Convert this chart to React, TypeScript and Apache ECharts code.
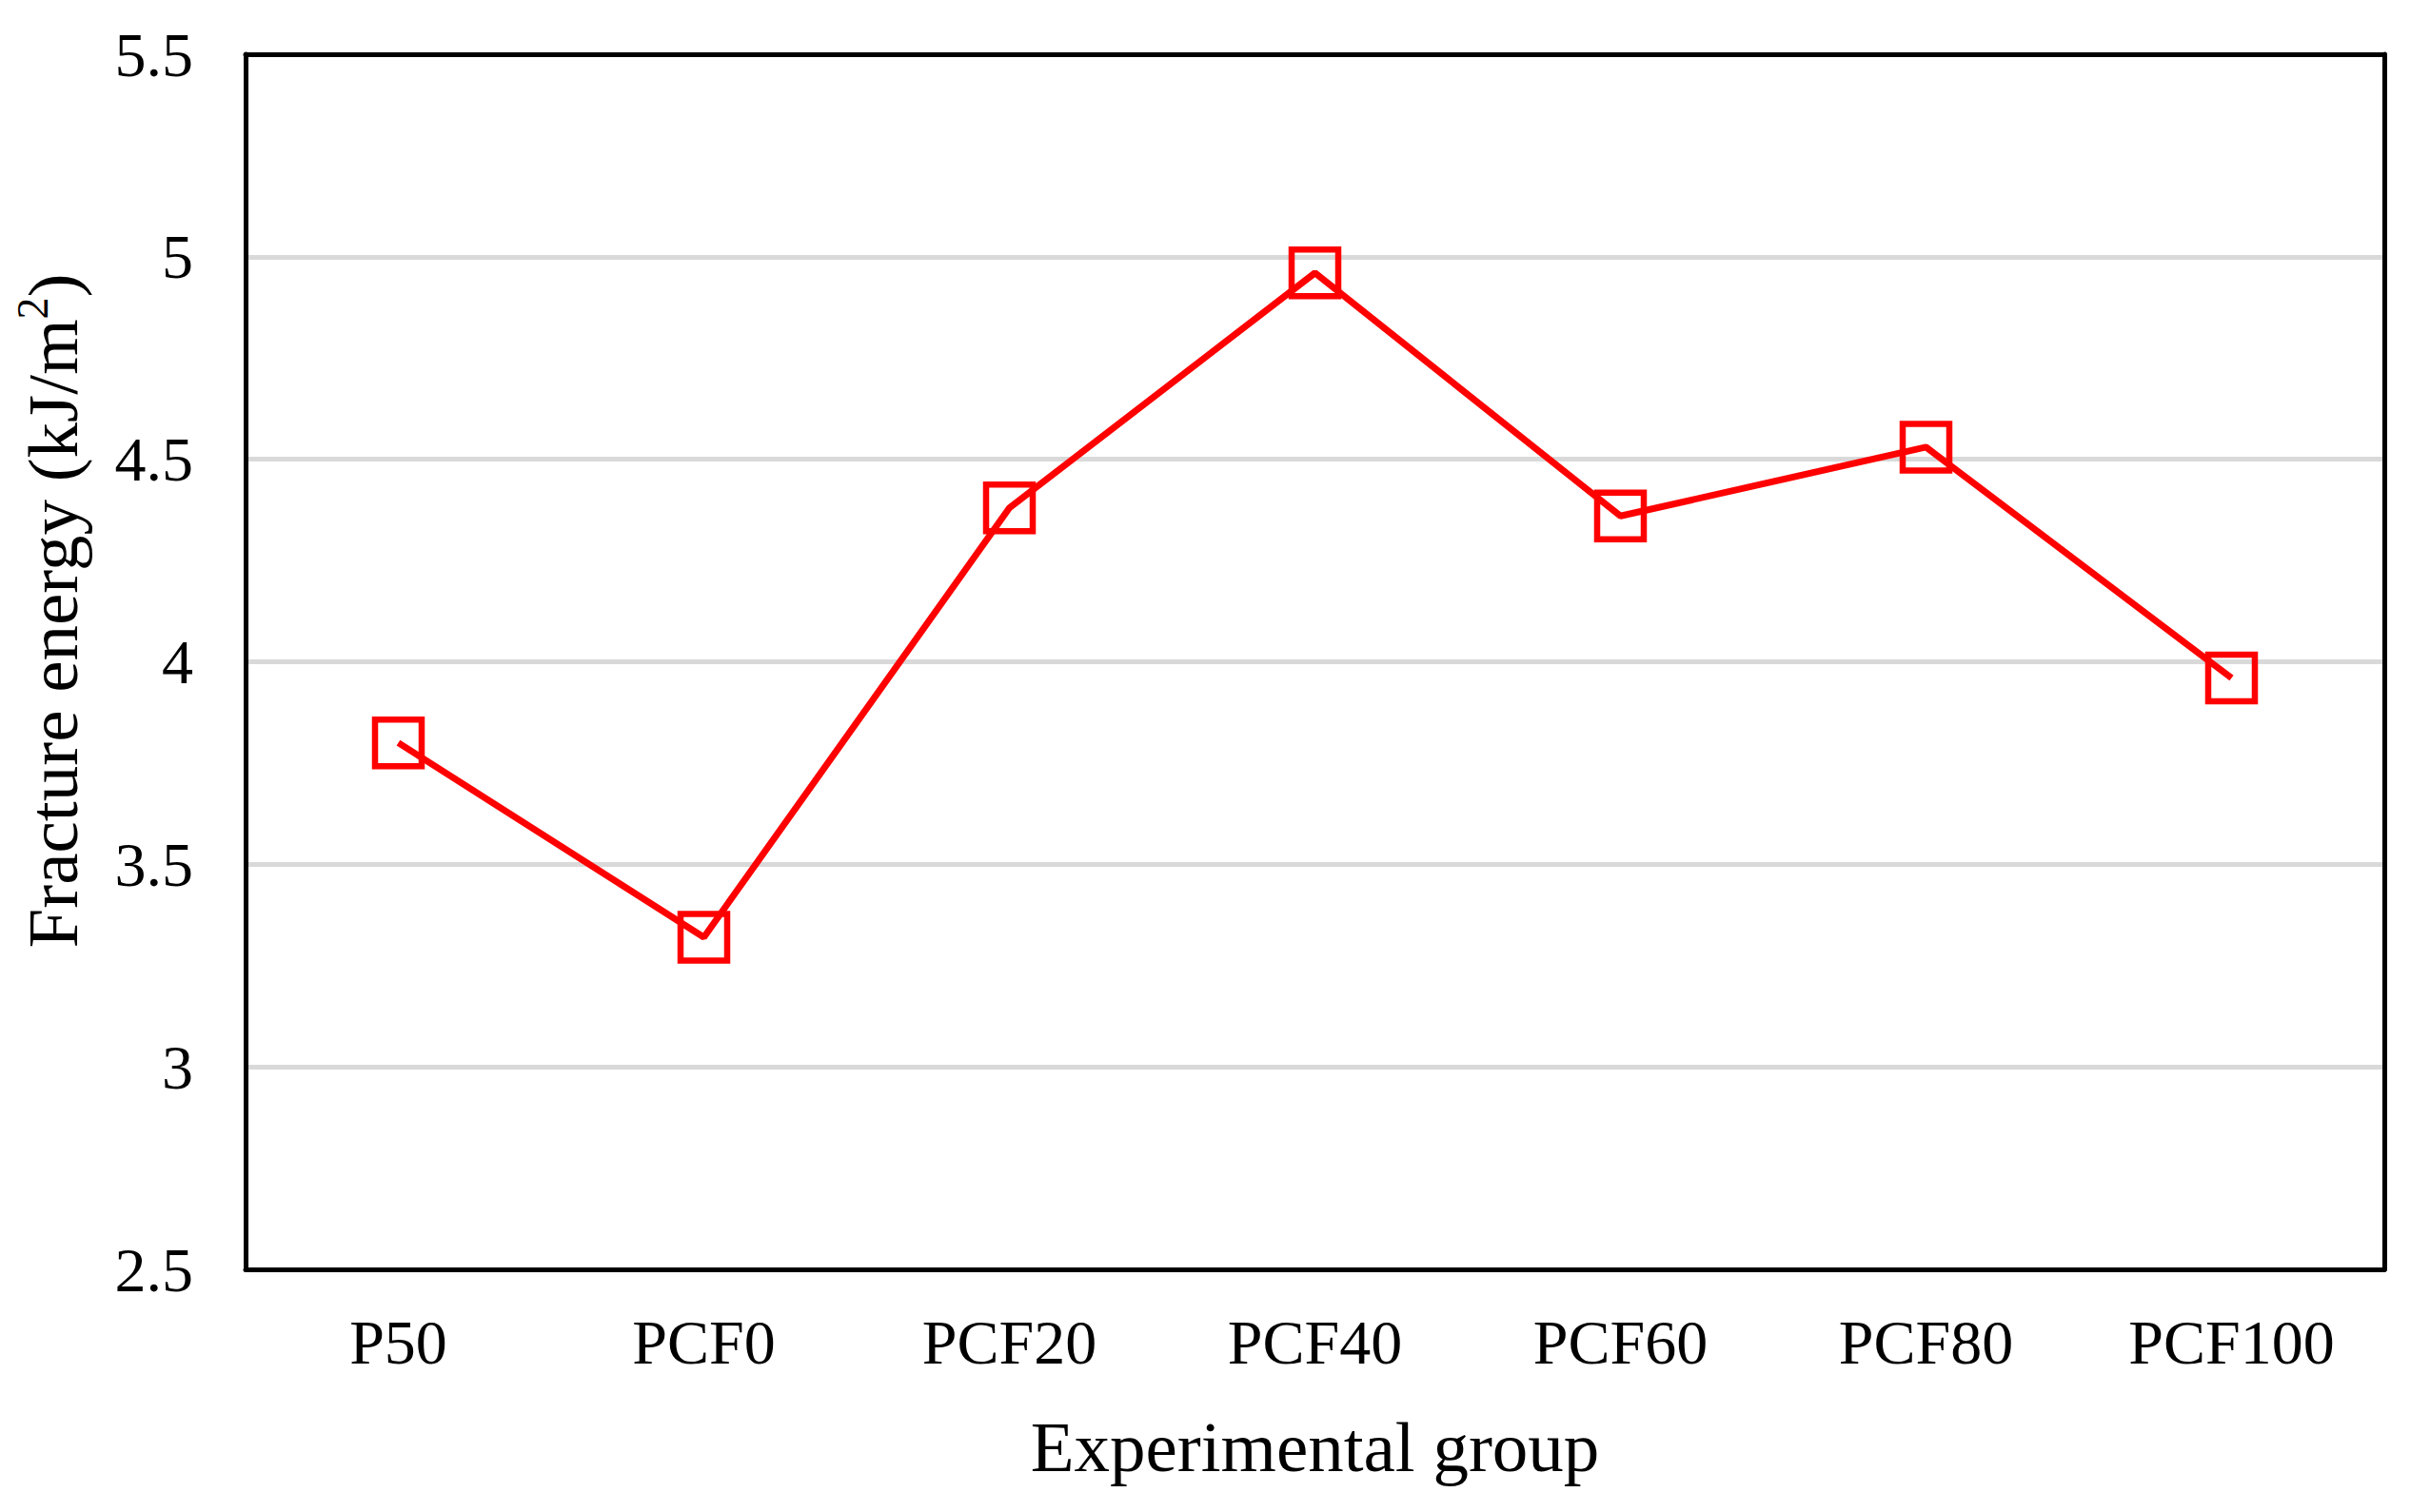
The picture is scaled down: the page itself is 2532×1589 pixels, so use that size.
import React, { useEffect, useRef } from "react";
import * as echarts from "echarts";

const categories = ["P50", "PCF0", "PCF20", "PCF40", "PCF60", "PCF80", "PCF100"];
const fractureEnergy = [3.8, 3.32, 4.38, 4.96, 4.36, 4.53, 3.96];
const yMin = 2.5;
const yMax = 5.5;
const yStep = 0.5;
const xTitle = "Experimental group";
const yTitleMain = "Fracture energy (kJ/m";
const yTitleSup = "2";
const yTitleEnd = ")";

const FONT = "'Liberation Serif', 'Times New Roman', serif";

export default function App() {
  const ref = useRef<HTMLDivElement>(null);

  useEffect(() => {
    document.body.style.margin = "0";
    if (!ref.current) return;
    const chart = echarts.init(ref.current, undefined, { renderer: "svg" });
    const baseY = {
      type: "value" as const,
      min: yMin,
      max: yMax,
      interval: yStep,
    };
    chart.setOption({
      animation: false,
      backgroundColor: "#ffffff",
      grid: { left: 258, right: 27, top: 57, bottom: 255, containLabel: false },
      xAxis: [
        {
          type: "category",
          data: categories,
          boundaryGap: true,
          position: "bottom",
          z: 5,
          axisLine: { show: true, lineStyle: { color: "#000", width: 5 } },
          axisTick: { show: false },
          axisLabel: { color: "#000", fontFamily: FONT, fontSize: 66, margin: 43 },
          splitLine: { show: false },
          name: xTitle,
          nameLocation: "middle",
          nameGap: 149,
          nameTextStyle: { color: "#000", fontFamily: FONT, fontSize: 75 },
        },
        {
          type: "category",
          data: categories,
          position: "top",
          z: 5,
          axisLine: { show: true, lineStyle: { color: "#000", width: 5 } },
          axisTick: { show: false },
          axisLabel: { show: false },
          splitLine: { show: false },
        },
      ],
      yAxis: [
        {
          ...baseY,
          position: "left",
          z: 5,
          axisLine: { show: true, lineStyle: { color: "#000", width: 5 } },
          axisTick: { show: false },
          axisLabel: { color: "#000", fontFamily: FONT, fontSize: 66, margin: 55, padding: [0, 0, 6, 0] },
          splitLine: { show: false },
        },
        {
          ...baseY,
          position: "right",
          z: 5,
          axisLine: { show: true, lineStyle: { color: "#000", width: 5 } },
          axisTick: { show: false },
          axisLabel: { show: false },
          splitLine: { show: false },
        },
        {
          ...baseY,
          position: "left",
          z: 0,
          axisLine: { show: false },
          axisTick: { show: false },
          axisLabel: { show: false },
          splitLine: { show: true, lineStyle: { color: "#d9d9d9", width: 5 } },
        },
      ],
      graphic: [
        {
          type: "text",
          x: 50,
          y: 642,
          rotation: Math.PI / 2,
          style: {
            text: `{a|${yTitleMain}}{s|${yTitleSup}}{a|${yTitleEnd}}`,
            align: "center",
            verticalAlign: "middle",
            fill: "#000",
            rich: {
              a: { fontFamily: FONT, fontSize: 75, lineHeight: 86, fill: "#000", verticalAlign: "bottom" },
              s: { fontFamily: FONT, fontSize: 46, lineHeight: 86, fill: "#000", verticalAlign: "top", padding: [4, 0, 0, 0] },
            },
          },
        },
      ],
      series: [
        {
          type: "line",
          xAxisIndex: 0,
          yAxisIndex: 0,
          data: fractureEnergy,
          z: 3,
          symbol: "rect",
          symbolSize: 49,
          showAllSymbol: true,
          lineStyle: { color: "#ff0000", width: 7 },
          itemStyle: { color: "rgba(0,0,0,0)", borderColor: "#ff0000", borderWidth: 6.5 },
          emphasis: { disabled: true },
        },
      ],
    });
    return () => chart.dispose();
  }, []);

  return <div ref={ref} style={{ width: 2532, height: 1589 }} />;
}
